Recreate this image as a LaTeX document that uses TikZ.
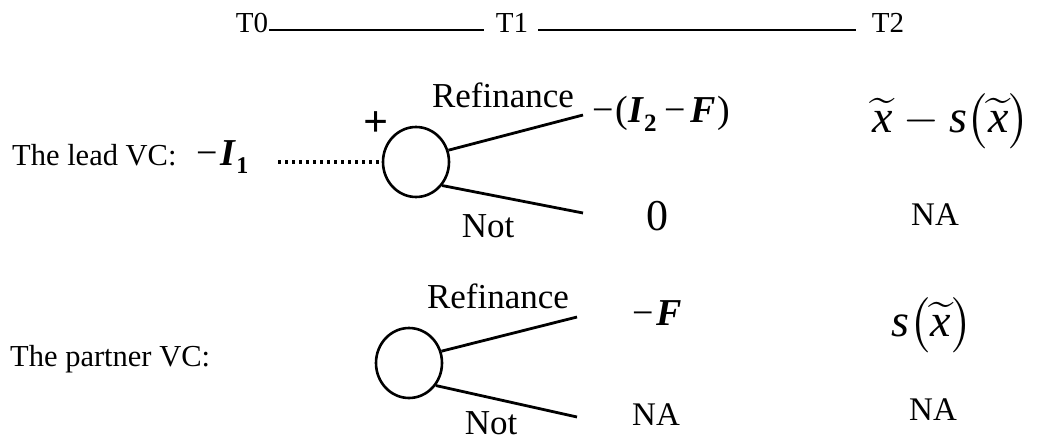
\documentclass[tikz,border=0pt]{standalone}
\usepackage{fontspec}
\setmainfont{Liberation Serif}
\usetikzlibrary{shapes.geometric}
\begin{document}
\begin{tikzpicture}[x=1pt,y=-1pt,
  lab/.style={inner sep=0pt, font=\fontsize{35}{40}\selectfont},
  side/.style={inner sep=0pt, anchor=base west, font=\fontsize{30.5}{36}\selectfont},
  tlab/.style={inner sep=0pt, anchor=base, font=\fontsize{29}{34}\selectfont},
  nalab/.style={inner sep=0pt, font=\fontsize{33}{38}\selectfont},
  mathlab/.style={inner sep=0pt, font=\normalsize},
  chance/.style={draw, line width=2.6pt, ellipse, minimum width=66pt, minimum height=70pt, inner sep=0pt},
  branch/.style={line width=2.8pt},
  timeline/.style={line width=1.1pt},
  dots/.style={line width=3.4pt, dash pattern=on 3pt off 4pt}]
\useasboundingbox (0,0) rectangle (1051,441);
% time line
\node[tlab] (t0) at (252,33) {T0};
\node[tlab] (t1) at (512,33) {T1};
\node[tlab] (t2) at (888,33) {T2};
\draw[timeline] ([yshift=3pt,xshift=1pt]t0.base east) -- ([yshift=3pt,xshift=-12pt]t1.base west);
\draw[timeline] ([yshift=3pt,xshift=10pt]t1.base east) -- ([yshift=3pt,xshift=-16pt]t2.base west);
% lead VC
\node[side] (lead) at (12,165) {The lead VC:};
\node[inner sep=0pt, font=\fontsize{38}{44}\selectfont, anchor=base west] (i1) at (196,165) {−\hspace{3pt}\textbf{\textit{I}}\raisebox{-8pt}{\fontsize{24}{28}\selectfont\textbf{1}}};
\coordinate (d1) at (278,162);
\node[chance] (c1) at (416,162) {};
\node[inner sep=0pt, font=\fontsize{44}{50}\selectfont\bfseries] (plus) at (376,124) {+};
\draw[dots] (d1) -- (c1.west);
\coordinate (e1u) at (583,115);
\coordinate (e1d) at (583,213);
\draw[branch] (c1.20) -- (e1u);
\draw[branch] (c1.-42) -- (e1d);
\node[lab, anchor=base] (ref1) at (503,108) {Refinance};
\node[lab, anchor=base] (not1) at (488,237) {Not};
\node[inner sep=0pt, font=\fontsize{38}{44}\selectfont, anchor=west] (pay1) at (592,114) {−\hspace{2pt}(\textbf{\textit{I}}\raisebox{-9pt}{\fontsize{25}{28}\selectfont\textbf{2}}\hspace{8pt}−\hspace{4pt}\textbf{\textit{F}}\hspace{2pt})};
\node[inner sep=0pt, font=\fontsize{44}{50}\selectfont] (zero) at (657,216) {0};
\node[mathlab] (pay1b) at (951,121) {\scalebox{4.6}{$\widetilde{\textit{x}}-\textit{s}\bigl(\widetilde{\textit{x}}\bigr)$}};
\node[nalab] (na1) at (935,215) {NA};
% partner VC
\node[side] (partner) at (10,366) {The partner VC:};
\node[chance] (c2) at (409,363) {};
\coordinate (e2u) at (577,317);
\coordinate (e2d) at (577,417);
\draw[branch] (c2.20) -- (e2u);
\draw[branch] (c2.-40) -- (e2d);
\node[lab, anchor=base] (ref2) at (498,308) {Refinance};
\node[lab, anchor=base] (not2) at (491,434) {Not};
\node[inner sep=0pt, font=\fontsize{38}{44}\selectfont] (pay2) at (657,313) {−\hspace{3pt}\textbf{\textit{F}}};
\node[mathlab] (pay2b) at (932,325) {\scalebox{4.6}{$\textit{s}\bigl(\widetilde{\textit{x}}\bigr)$}};
\node[nalab] (na2) at (656,415) {NA};
\node[nalab] (na3) at (933,410) {NA};
\end{tikzpicture}
\end{document}
